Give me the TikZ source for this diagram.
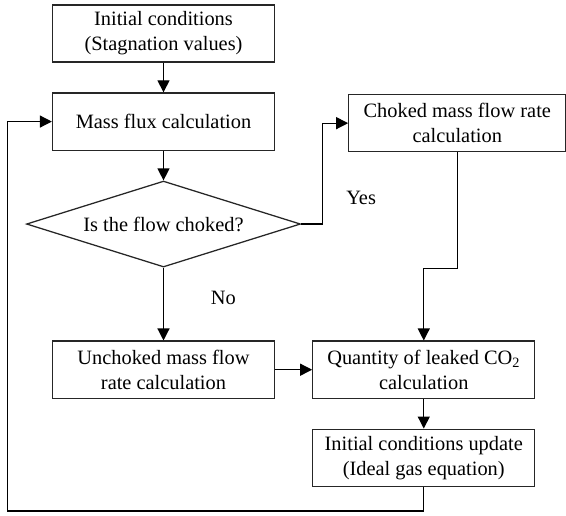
\documentclass[tikz,border=0pt]{standalone}
\usepackage{fontspec}
\setmainfont{Liberation Serif}
\usetikzlibrary{calc}
\usetikzlibrary{positioning}
\usetikzlibrary{shapes.geometric}
\usetikzlibrary{arrows.meta}
\tikzset{
	>={Triangle[length=0.3cm,width=0.3cm]},
	stepbox/.style={
		rectangle,
		draw=black!85, line width=0.9pt,
		minimum width=5.55cm,
		minimum height=1.43cm,
		align=center},
	decision/.style={
		diamond,
		aspect=3.2,
		draw=black!85, line width=0.9pt,
		minimum width=6.85cm,
		minimum height=2.15cm,
		inner sep=1pt},
	line/.style={draw, line width=0.9pt, ->},
}

\begin{document}
\begin{tikzpicture}
		[node distance=.74cm, font=\fontsize{14.5}{17.8}\selectfont]
		\useasboundingbox (0,0) rectangle (14.15,-12.875);
		\node[stepbox] (init) at (4.0875,-0.8375) {Initial conditions\\(Stagnation values)};
		\node[stepbox, below=of init] (mass) {Mass flux calculation};
		\node[decision, below=of mass] (dia) {Is the flow choked?};
		\node[stepbox, below=1.82cm of dia] (unchoked) {Unchoked mass flow\\rate calculation};
		\node[stepbox, right=0.925cm of unchoked] (quant) {Quantity of leaked CO\textsubscript{2}\\calculation};
		\node[stepbox, below=of quant] (update) {Initial conditions update\\(Ideal gas equation)};
		\node[stepbox, minimum width=5.425cm, right=1.825cm of mass, yshift=-0.04cm] (choked) {Choked mass flow rate\\calculation};
		% connectors
		\path[line] (init) -- (mass);
		\path[line] (mass) -- (dia);
		\path[line] (dia) -- node[pos=0.42, right=1.05cm] (no) {No} (unchoked);
		\path[line] (unchoked) -- (quant);
		\path[line] (quant) -- (update);
		\path[line] (dia.east) -- ++(0.525,0) |- (choked.west);
		\node (yes) at ($(dia.east)+(1.5,0.65)$) {Yes};
		\path[line] (choked.south) -- ++(0,-2.9) -| (quant.north);
		\coordinate (back) at ($(mass.west)+(-1.1,0)$);
		\path[line] (update.south) -- ++(0,-0.6) -| (back) -- (mass.west);
\end{tikzpicture}
\end{document}
